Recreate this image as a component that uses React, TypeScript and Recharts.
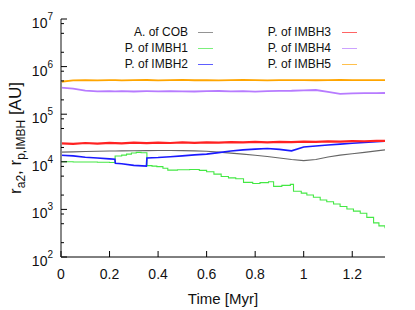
import { LineChart, Line, XAxis, YAxis, Legend } from 'recharts';

// shared time grid (Myr); duplicated points around 0.223 and 0.353 carry the jumps
const time = [0, 0.05, 0.1, 0.15, 0.2, 0.222, 0.224, 0.25, 0.3, 0.352, 0.354, 0.4, 0.45, 0.5, 0.55, 0.6, 0.65, 0.7, 0.75, 0.8, 0.85, 0.9, 0.95, 1.0, 1.05, 1.1, 1.15, 1.2, 1.25, 1.3, 1.335];

const cob = [16000, 16200, 16400, 16600, 16800, 16900, 16900, 17000, 17100, 17200, 17200, 17300, 17300, 17200, 17000, 16600, 16000, 15200, 14500, 13700, 12900, 12000, 11200, 10600, 11200, 12600, 13800, 14800, 15800, 17000, 17800];
const imbh2 = [13700, 13300, 12500, 12000, 11500, 11300, 9300, 9100, 8400, 8100, 12000, 12300, 12800, 13300, 14000, 14500, 15600, 16800, 17800, 18500, 19000, 18200, 17000, 20500, 21500, 22500, 23500, 24500, 25500, 26500, 27000];
const imbh3 = [24500, 23800, 24800, 24200, 25000, 24600, 24600, 24300, 25200, 24700, 24700, 25300, 24800, 25500, 25000, 25700, 25200, 25900, 25500, 26100, 25700, 26300, 25900, 26500, 26200, 26800, 26500, 27100, 27000, 27500, 27600];
const imbh4 = [360000, 345000, 312000, 303000, 306000, 302000, 302000, 305000, 300000, 304000, 304000, 301000, 306000, 303000, 300000, 305000, 307000, 302000, 304000, 299000, 306000, 309000, 311000, 318000, 322000, 296000, 268000, 275000, 278000, 276000, 279000];
const imbh5 = [480000, 515000, 520000, 512000, 518000, 522000, 522000, 515000, 520000, 523000, 523000, 516000, 519000, 524000, 517000, 521000, 514000, 520000, 523000, 518000, 515000, 521000, 519000, 522000, 517000, 520000, 523000, 518000, 521000, 519000, 520000];

// IMBH1 is a staircase, so it has its own time points
const imbh1Time = [0, 0.05, 0.1, 0.15, 0.2, 0.223, 0.25, 0.27, 0.29, 0.31, 0.33, 0.354, 0.375, 0.395, 0.42, 0.44, 0.48, 0.53, 0.57, 0.6, 0.63, 0.66, 0.69, 0.72, 0.752, 0.79, 0.82, 0.855, 0.876, 0.91, 0.945, 0.958, 0.99, 1.013, 1.04, 1.068, 1.095, 1.123, 1.15, 1.178, 1.205, 1.233, 1.26, 1.288, 1.31, 1.335];
const imbh1 = [10000, 9900, 9900, 9800, 9700, 13200, 13800, 14500, 15300, 15800, 15500, 8300, 8100, 7900, 7300, 6700, 6800, 6900, 6600, 6200, 5500, 4900, 4600, 4400, 3700, 3500, 3650, 3800, 3050, 3200, 3350, 2400, 2200, 2000, 1800, 1580, 1450, 1300, 1150, 1020, 920, 830, 680, 520, 450, 400];

const names = ['A. of COB', 'P. of IMBH1', 'P. of IMBH2', 'P. of IMBH3', 'P. of IMBH4', 'P. of IMBH5'];
const colors = ['#666666', '#44e844', '#1a1aff', '#ff2222', '#b77bff', '#ffa500'];
const widths = [1.1, 1.1, 1.6, 2.2, 1.8, 1.8];

const xTicks = [0, 0.2, 0.4, 0.6, 0.8, 1, 1.2];
const decades = [1e2, 1e3, 1e4, 1e5, 1e6, 1e7];
const yTicks = decades.flatMap((d, i) => (i < decades.length - 1 ? [d, d * 2, d * 5, d * 8] : [d]));

const toRows = (ts: number[], vs: number[]) => ts.map((t, i) => ({ t, v: vs[i] }));
const seriesData = [
  toRows(time, cob),
  toRows(imbh1Time, imbh1),
  toRows(time, imbh2),
  toRows(time, imbh3),
  toRows(time, imbh4),
  toRows(time, imbh5),
];

const FONT = '"Liberation Sans", Arial, sans-serif';
const INK = '#111';

function XTick(props: any) {
  const { x, y, payload, top } = props;
  if (top) return <line x1={x} x2={x} y1={y} y2={y + 6} stroke="#000" />;
  return (
    <g>
      <line x1={x} x2={x} y1={y} y2={y - 6} stroke="#000" />
      <text x={x} y={y + 22} textAnchor="middle" fontSize={14} fill={INK} fontFamily={FONT}>
        {payload.value}
      </text>
    </g>
  );
}

function YTick(props: any) {
  const { x, y, payload, right } = props;
  const lg = Math.log10(payload.value);
  const exp = Math.round(lg);
  const major = Math.abs(lg - exp) < 1e-6;
  const len = major ? 6 : 3;
  if (right) return <line x1={x} x2={x - len} y1={y} y2={y} stroke="#000" />;
  return (
    <g>
      <line x1={x} x2={x + len} y1={y} y2={y} stroke="#000" />
      {major && (
        <text x={x - 8} y={y + 9} textAnchor="end" fontSize={14} fill={INK} fontFamily={FONT}>
          10<tspan dy={-8} fontSize={10}>{exp}</tspan>
        </text>
      )}
    </g>
  );
}

function YLabel(props: any) {
  const vb = props.viewBox || { x: 0, y: 19, width: 61, height: 238 };
  const cx = vb.x + 21;
  const cy = vb.y + vb.height / 2;
  return (
    <text x={cx} y={cy} transform={`rotate(-90 ${cx} ${cy})`} textAnchor="middle" fontSize={17} fill={INK} fontFamily={FONT}>
      r<tspan fontSize={12} dy={4}>a2</tspan>
      <tspan dy={-4}>, r</tspan>
      <tspan fontSize={12} dy={4}>p,IMBH</tspan>
      <tspan dy={-4}> [AU]</tspan>
    </text>
  );
}

function XLabel(props: any) {
  const vb = props.viewBox || { x: 61, y: 257, width: 324, height: 53 };
  return (
    <text x={vb.x + vb.width / 2} y={vb.y + 47} textAnchor="middle" fontSize={15} fill={INK} fontFamily={FONT}>
      Time [Myr]
    </text>
  );
}

function LegendBox() {
  const cols = [[0, 1, 2], [3, 4, 5]];
  return (
    <div style={{ display: 'flex', fontFamily: FONT, fontSize: 12, lineHeight: '16px', color: INK }}>
      {cols.map((col, ci) => (
        <div key={ci} style={{ display: 'flex', flexDirection: 'column' }}>
          {col.map((i) => (
            <div key={i} style={{ display: 'flex', alignItems: 'center', height: 16 }}>
              <span style={{ width: ci === 0 ? 88 : 118, textAlign: 'right', whiteSpace: 'nowrap' }}>{names[i]}</span>
              <span style={{ width: 15, height: 0, borderTop: `1.5px solid ${colors[i]}`, marginLeft: ci === 0 ? 10 : 11, opacity: 0.7 }} />
            </div>
          ))}
        </div>
      ))}
    </div>
  );
}

export default function App() {
  return (
    <div style={{ position: 'absolute', left: 0, top: 0, width: 415, height: 310, background: '#fff' }}>
      <LineChart width={415} height={310} margin={{ top: 19, right: 30, bottom: 0, left: 0 }}>
        <XAxis
          xAxisId="b"
          type="number"
          dataKey="t"
          domain={[0, 1.335]}
          ticks={xTicks}
          interval={0}
          allowDataOverflow
          height={53}
          tickSize={0}
          tickMargin={0}
          tickLine={false}
          tick={<XTick />}
          axisLine={{ stroke: '#000' }}
          label={<XLabel />}
        />
        <XAxis
          xAxisId="t"
          orientation="top"
          type="number"
          dataKey="t"
          domain={[0, 1.335]}
          ticks={xTicks}
          interval={0}
          allowDataOverflow
          height={0}
          tickSize={0}
          tickMargin={0}
          tickLine={false}
          tick={<XTick top />}
          axisLine={{ stroke: '#000' }}
        />
        <YAxis
          yAxisId="l"
          scale="log"
          domain={[100, 1e7]}
          ticks={yTicks}
          interval={0}
          allowDataOverflow
          width={61}
          tickSize={0}
          tickMargin={0}
          tickLine={false}
          tick={<YTick />}
          axisLine={{ stroke: '#888', strokeWidth: 2 }}
          label={<YLabel />}
        />
        <YAxis
          yAxisId="r"
          orientation="right"
          scale="log"
          domain={[100, 1e7]}
          ticks={yTicks}
          interval={0}
          allowDataOverflow
          width={0}
          tickSize={0}
          tickMargin={0}
          tickLine={false}
          tick={<YTick right />}
          axisLine={{ stroke: '#000' }}
        />
        {seriesData.map((d, i) => (
          <Line
            key={names[i]}
            data={d}
            dataKey="v"
            name={names[i]}
            xAxisId="b"
            yAxisId="l"
            type={i === 1 ? 'stepAfter' : 'linear'}
            stroke={colors[i]}
            strokeWidth={widths[i]}
            dot={false}
            isAnimationActive={false}
          />
        ))}
        <Legend
          verticalAlign="middle"
          layout="horizontal"
          content={<LegendBox />}
          wrapperStyle={{ position: 'absolute', top: 24, left: 100, width: 260, height: 48 }}
        />
      </LineChart>
    </div>
  );
}
